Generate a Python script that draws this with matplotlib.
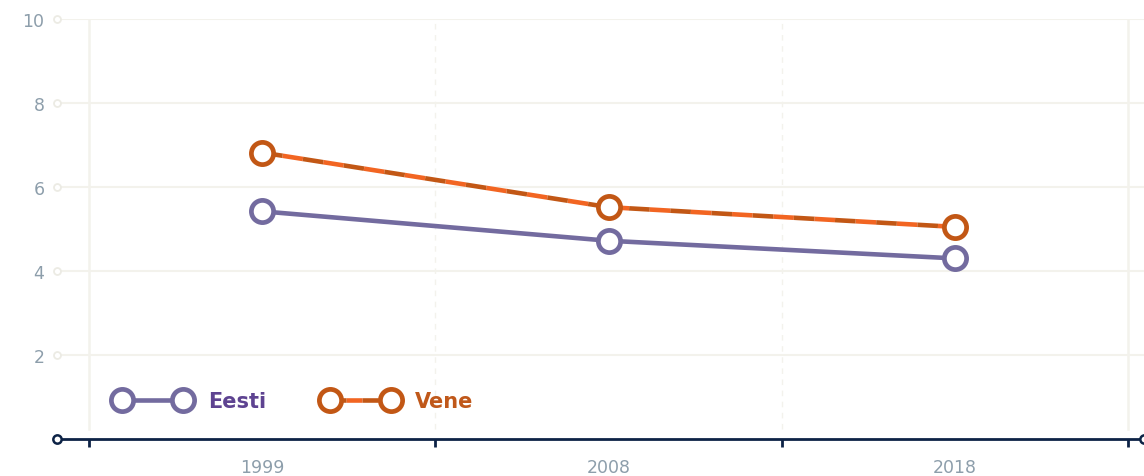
import matplotlib
matplotlib.use("Agg")
import matplotlib.pyplot as plt
from matplotlib.lines import Line2D

years = ["1999", "2008", "2018"]
eesti = [5.42, 4.72, 4.30]
vene = [6.82, 5.52, 5.05]
yticks = [2, 4, 6, 8, 10]

plt.rcParams['font.family'] = ['DejaVu Sans']

W, H = 1144, 477
fig = plt.figure(figsize=(W / 100, H / 100), dpi=100)
ax = fig.add_axes([57 / W, (477 - 440) / H, (1144 - 57) / W, (440 - 20) / H])

x = list(range(len(years)))
ax.set_xlim(-0.5 - 32 / 346.3, 2.5 + 16 / 346.3)
ax.set_ylim(0, 10)

grid_c = "#f3f2ec"
for yv in yticks:
    ax.axhline(yv, color=grid_c, lw=1.5, zorder=0)
bounds = [-0.5, 0.5, 1.5, 2.5]
for i, b in enumerate(bounds):
    ls = "-" if i in (0, len(bounds) - 1) else (0, (4, 4))
    ax.plot([b, b], [0.25, 10], color=grid_c, lw=1.8 if ls == "-" else 1.0, ls=ls, zorder=0)

purple = "#736b9f"
orange_d = "#c25715"
orange_b = "#f26522"
MS, MEW, LW = 16, 3.4, 3.3

ax.plot(x, eesti, color=purple, lw=LW, marker="o", ms=MS, mfc="white",
        mec=purple, mew=MEW, zorder=3, solid_capstyle="butt")
ax.plot(x, vene, color=orange_d, gapcolor=orange_b, lw=LW, ls=(0, (4.5, 4.5)),
        zorder=4)
ax.plot(x, vene, ls="none", marker="o", ms=MS, mfc="white", mec=orange_d,
        mew=MEW, zorder=5)

for s in ["left", "right", "top"]:
    ax.spines[s].set_visible(False)
ax.spines["bottom"].set_color("#0d2346")
ax.spines["bottom"].set_linewidth(2)
ax.set_xticks(bounds)
ax.set_xticklabels([])
ax.set_xticks(x, minor=True)
ax.set_xticklabels(years, minor=True)
ax.tick_params(axis="x", which="major", length=6, width=2, color="#0d2346", direction="out")
ax.tick_params(axis="x", which="minor", length=0, pad=14, labelsize=12.5, labelcolor="#8d9eab")
ax.set_yticks(yticks)
ax.set_yticklabels([str(v) for v in yticks])
ax.tick_params(axis="y", length=0, pad=9, labelsize=12.5, labelcolor="#8d9eab")

x0 = ax.get_xlim()[0]
for yv in yticks:
    ax.plot([x0], [yv], marker="o", ms=5, mfc="white", mec="#ecebe4", mew=1.3,
            clip_on=False, zorder=2)
ax.plot([x0, ax.get_xlim()[1]], [0, 0], ls="none", marker="o", ms=6, mfc="white",
        mec="#0d2346", mew=1.8, clip_on=False, zorder=6)

handles = [
    Line2D([0], [0], color=purple, lw=LW, marker="o", ms=MS, mfc="white", mec=purple, mew=MEW),
    Line2D([0], [0], color=orange_d, gapcolor=orange_b, ls=(0, (3.5, 3.5)), lw=LW, marker="o",
           ms=MS, mfc="white", mec=orange_d, mew=MEW),
]
leg = fig.legend(handles, ["Eesti", "Vene"], loc="center left",
                 bbox_to_anchor=(116 / W, (477 - 402) / H), bbox_transform=fig.transFigure,
                 ncol=2, numpoints=2, handlelength=3.53, frameon=False, borderpad=0,
                 borderaxespad=0, prop={"weight": "bold", "size": 15},
                 columnspacing=2.74, handletextpad=0.89)
for t, c in zip(leg.get_texts(), ["#5e4391", "#c0581a"]):
    t.set_color(c)

fig.savefig("out.png", dpi=100)
